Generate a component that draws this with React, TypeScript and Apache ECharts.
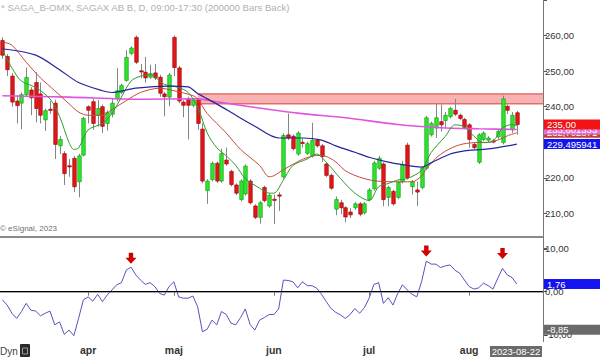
import React, { useEffect, useRef } from "react";
import * as echarts from "echarts";

const TITLE = "* SAGA_B-OMX, SAGAX AB B, D, 09:00-17:30 (200000 Bars Back)";
const COPYRIGHT = "© eSignal, 2023";
const CURSOR_DATE = "2023-08-22";
const FIRST_BAR = "2023-03-08";
const CATEGORY_COUNT = 114;
const HOLIDAYS = ["2023-04-07", "2023-04-10", "2023-05-01", "2023-05-18", "2023-06-06", "2023-06-23"];
const MONTH_NAMES = ["jan", "feb", "mar", "apr", "maj", "jun", "jul", "aug", "sep", "okt", "nov", "dec"];

const opens = [
  258.6, 254.1, 248.6, 241.6, 241.0, 243.4, 244.7, 246.8, 243.6, 236.3,
  239.3, 241.0, 229.0, 226.8, 223.4, 225.5, 218.9, 226.4, 240.0, 241.4,
  237.6, 240.0, 235.3, 237.9, 242.2, 244.0, 247.4, 255.0, 259.5, 250.1,
  249.7, 248.3, 249.5, 248.3, 243.6, 242.7, 259.5, 250.9, 241.3, 242.2,
  240.4, 241.9, 233.7, 216.4, 219.5, 224.1, 219.1, 225.0, 221.8, 218.0,
  213.9, 215.5, 219.1, 212.1, 208.9, 217.3, 212.1, 214.0, 215.2, 220.3,
  232.1, 231.7, 226.7, 230.0, 226.9, 226.2, 230.6, 229.0, 223.9, 220.7,
  211.2, 213.0, 211.6, 210.4, 211.6, 212.7, 210.2, 213.9, 216.9, 222.7,
  223.9, 214.5, 216.2, 214.5, 218.9, 229.2, 217.5, 216.6, 217.3, 222.7,
  232.1, 234.0, 235.8, 236.1, 237.2, 239.0, 237.6, 236.4, 234.9, 229.4,
  224.4, 230.8, 230.6, 230.4, 231.5, 229.9, 240.1, 233.5, 238.3,
];
const highs = [
  259.5, 254.8, 249.5, 243.1, 244.0, 251.0, 245.5, 249.7, 246.8, 239.5,
  241.6, 242.0, 231.7, 227.5, 225.3, 226.2, 226.8, 237.2, 240.4, 242.2,
  241.9, 240.6, 239.0, 242.2, 250.9, 246.5, 255.9, 257.0, 260.0, 252.0,
  254.0, 251.8, 252.0, 249.0, 244.2, 249.5, 260.0, 251.5, 241.8, 242.8,
  242.4, 242.4, 235.3, 219.6, 224.6, 224.6, 228.2, 228.5, 222.3, 218.5,
  219.6, 223.8, 219.6, 212.6, 213.5, 217.8, 215.6, 215.3, 216.0, 232.5,
  238.1, 232.2, 233.1, 231.0, 230.2, 235.5, 231.0, 229.5, 224.4, 221.2,
  214.8, 213.8, 212.0, 211.5, 213.2, 213.2, 213.2, 217.1, 224.8, 226.2,
  224.4, 217.8, 216.7, 219.2, 224.8, 229.9, 219.4, 218.9, 223.2, 237.4,
  235.8, 240.8, 240.6, 238.5, 240.0, 242.2, 238.1, 236.9, 235.4, 229.9,
  232.6, 233.1, 231.7, 231.0, 233.6, 243.1, 240.6, 238.5, 238.8,
];
const lows = [
  253.5, 248.6, 240.0, 235.3, 233.7, 242.8, 237.6, 235.6, 235.3, 233.2,
  238.0, 225.3, 226.7, 218.0, 220.3, 216.0, 214.5, 226.0, 235.3, 233.5,
  234.4, 232.6, 233.3, 237.0, 241.5, 243.5, 247.0, 254.5, 252.0, 248.0,
  246.8, 247.8, 247.5, 242.8, 237.3, 240.1, 248.6, 241.0, 237.0, 230.8,
  239.8, 233.5, 218.5, 212.7, 219.0, 218.6, 218.6, 223.4, 217.6, 215.2,
  213.4, 215.0, 212.5, 208.4, 207.1, 213.1, 211.6, 207.0, 210.7, 219.8,
  230.6, 227.7, 226.2, 228.5, 226.4, 225.7, 228.5, 224.5, 220.2, 216.6,
  209.5, 209.8, 207.5, 208.7, 211.0, 209.2, 209.7, 213.4, 216.4, 222.2,
  212.0, 212.0, 212.2, 214.0, 218.4, 219.5, 215.3, 212.1, 216.8, 222.2,
  231.6, 231.2, 233.0, 234.0, 236.7, 237.4, 236.2, 233.7, 228.5, 228.0,
  223.9, 230.3, 230.1, 229.7, 231.0, 229.4, 238.0, 232.7, 232.1,
];
const closes = [
  254.5, 250.4, 241.3, 240.3, 243.4, 248.2, 242.5, 239.5, 237.6, 238.9,
  239.1, 229.4, 230.8, 221.2, 223.2, 217.5, 226.2, 236.7, 239.0, 235.3,
  239.5, 234.5, 238.4, 241.0, 244.5, 246.0, 253.9, 256.5, 252.5, 249.9,
  248.1, 249.3, 248.1, 243.8, 242.8, 248.9, 251.0, 241.6, 240.4, 240.4,
  241.9, 235.3, 219.1, 219.1, 224.1, 219.1, 226.8, 223.9, 218.1, 215.7,
  219.1, 223.3, 213.0, 208.9, 213.0, 213.6, 215.1, 213.8, 215.0, 231.9,
  231.2, 228.2, 232.6, 229.8, 229.6, 230.6, 229.0, 226.0, 220.7, 217.1,
  213.9, 211.6, 209.0, 209.6, 212.7, 209.8, 212.7, 216.6, 224.2, 225.5,
  213.9, 217.3, 212.7, 218.7, 223.7, 220.0, 218.9, 216.0, 222.7, 236.9,
  235.3, 236.9, 234.9, 237.6, 239.5, 237.9, 236.7, 234.2, 230.8, 228.5,
  232.1, 232.6, 231.2, 230.2, 233.1, 242.2, 239.0, 237.6, 235.0,
];

// moving averages as [bar index, value]
const maFast = [
  [0, 255.9], [2, 250.9], [4, 247.2], [7, 245.4], [10, 242.2], [12, 237.3], [14, 229.9], [15, 228.0],
  [16, 228.4], [18, 233.5], [21, 235.3], [23, 238.1], [25, 242.7], [27, 247.2], [29, 248.6], [31, 249.0],
  [34, 246.3], [37, 245.4], [39, 244.0], [41, 239.9], [43, 232.6], [45, 228.5], [47, 226.2], [49, 223.5],
  [51, 219.8], [54, 217.1], [56, 215.7], [57, 215.7], [59, 219.4], [61, 223.5], [64, 225.3], [66, 226.7],
  [68, 224.4], [71, 219.8], [74, 215.7], [77, 213.6], [79, 217.5], [81, 218.4], [83, 219.4], [85, 219.8],
  [88, 222.1], [90, 227.1], [93, 231.7], [95, 234.9], [97, 234.4], [99, 231.7], [101, 229.9], [103, 230.3],
  [105, 234.0], [107, 235.0], [108, 234.6],
];
const maMid = [
  [0, 258.2], [2, 257.3], [5, 252.5], [8, 248.1], [11, 244.5], [14, 240.8], [16, 238.5], [18, 237.6],
  [21, 237.6], [23, 239.2], [26, 241.7], [29, 244.0], [33, 245.2], [36, 244.5], [40, 243.1], [41, 242.2],
  [43, 238.1], [47, 232.6], [50, 228.0], [54, 223.5], [56, 220.3], [57, 220.6], [59, 222.3], [61, 223.8],
  [63, 225.2], [66, 226.3], [68, 226.0], [70, 224.5], [72, 222.0], [75, 220.2], [78, 219.2], [82, 218.9],
  [86, 218.9], [88, 220.5], [89, 222.5], [91, 225.5], [93, 227.5], [96, 229.3], [99, 229.9], [102, 230.0],
  [104, 230.6], [106, 231.8], [108, 232.702871],
];
const maSlow = [
  [0, 256.3], [7, 254.5], [12, 250.4], [16, 246.8], [21, 244.5], [23, 244.0], [28, 245.2], [35, 245.8],
  [39, 245.6], [41, 243.7], [45, 240.8], [49, 237.6], [53, 234.5], [58, 231.2], [63, 231.2], [67, 230.6],
  [70, 229.0], [74, 227.2], [77, 225.8], [81, 224.4], [84, 223.7], [88, 223.0], [90, 224.2], [94, 226.7],
  [97, 227.6], [101, 228.0], [104, 228.5], [108, 229.495941],
];
const maLong = [
  [0, 243.1], [14, 242.7], [29, 242.1], [41, 242.2], [45, 241.4], [52, 240.0], [62, 238.2], [72, 236.9],
  [83, 235.0], [92, 234.1], [100, 233.8], [108, 233.601333],
];

const oscillator = [
  -1.9, -3.1, -5.0, -6.2, -4.6, -2.7, -4.3, -4.5, -5.6, -5.0,
  -4.5, -7.7, -7.0, -9.9, -8.9, -10.2, -6.2, -1.9, -1.2, -2.2,
  -0.6, -2.3, -0.8, 0.4, 1.6, 2.1, 5.0, 5.7, 3.9, 2.7,
  1.7, 2.1, 1.2, -0.4, -0.8, 1.2, 2.3, -1.2, -1.5, -1.5,
  -1.0, -3.5, -9.3, -8.7, -6.6, -7.7, -4.6, -5.3, -7.3, -7.7,
  -6.0, -4.0, -7.6, -8.9, -6.6, -6.0, -5.3, -5.3, -4.0, 2.7,
  2.6, 2.3, 0.9, 2.3, 1.4, 1.4, 0.8, -0.6, -2.3, -3.9,
  -4.8, -5.4, -6.2, -5.3, -3.9, -5.0, -3.7, -1.5, 1.7, 2.1,
  -2.7, -1.4, -3.1, -0.4, 1.6, 0.4, -0.6, -1.2, 2.3, 7.1,
  6.4, 6.4, 5.6, 6.0, 6.2, 5.0, 4.3, 2.7, 1.2, 0.6,
  0.9, 2.0, 1.4, 0.6, 3.1, 5.4, 3.9, 3.3, 1.76,
];
const OSC_MARKER = -8.85;

const arrowBars = [27, 89, 105];
const arrowLift = [-9, -10, -15];

const BAND_START = 41;
const BAND_LOW = 240.8;
const BAND_HIGH = 243.6;

function buildDates(): string[] {
  const out: string[] = [];
  const d = new Date(FIRST_BAR + "T12:00:00Z");
  while (out.length < CATEGORY_COUNT) {
    const wd = d.getUTCDay();
    const s = d.toISOString().slice(0, 10);
    if (wd !== 0 && wd !== 6 && HOLIDAYS.indexOf(s) < 0) out.push(s);
    d.setUTCDate(d.getUTCDate() + 1);
  }
  return out;
}

const fmt = (v: number, d: number) => v.toFixed(d).replace(".", ",");

export default function App() {
  const ref = useRef<HTMLDivElement>(null);
  useEffect(() => {
    if (!ref.current) return;
    const chart = echarts.init(ref.current, null, { renderer: "svg" });
    const W = 600;
    const GRID_LEFT = -2.1;
    const GRID_RIGHT = 57;
    const FONT = "Arial, 'Liberation Sans', sans-serif";
    const dates = buildDates();
    const isMonthStart = (i: number) => i > 0 && dates[i].slice(0, 7) !== dates[i - 1].slice(0, 7);
    const candleData = opens.map((o, i) => [i, o, closes[i], lows[i], highs[i]]);
    const lastOf = (a: number[][]) => a[a.length - 1][1];

    const tag = (text: string, bg: string, color = "#fff") => ({
      show: true,
      position: "end",
      distance: 1,
      formatter: text,
      backgroundColor: bg,
      color,
      fontSize: 9.5,
      fontFamily: FONT,
      lineHeight: 10,
      padding: [0, 2, 0, 3],
      width: 52,
      align: "left",
      opacity: 1,
    });
    const hidden = { color: "rgba(0,0,0,0)", width: 0 };

    const option: any = {
      animation: false,
      backgroundColor: "#ffffff",
      grid: [
        { left: GRID_LEFT, right: GRID_RIGHT, top: -6.5, height: 255.5 },
        { left: GRID_LEFT, right: GRID_RIGHT, top: 248.6, height: 86.2 },
      ],
      xAxis: [
        { gridIndex: 0, type: "category", data: dates, boundaryGap: true, show: false },
        {
          gridIndex: 1,
          type: "category",
          data: dates,
          boundaryGap: true,
          offset: 7,
          axisLine: { show: true, lineStyle: { color: "#8a8a8a", width: 1.5 } },
          axisTick: {
            show: true,
            alignWithLabel: true,
            interval: (i: number) => isMonthStart(i),
            length: 4,
            lineStyle: { color: "#777" },
          },
          axisLabel: {
            interval: (i: number) => isMonthStart(i),
            formatter: (v: string) => MONTH_NAMES[parseInt(v.slice(5, 7), 10) - 1],
            fontWeight: "bold",
            fontSize: 10.5,
            fontFamily: FONT,
            color: "#333",
            margin: 3,
          },
          splitLine: { show: false },
        },
      ],
      yAxis: [
        {
          gridIndex: 0,
          type: "value",
          position: "right",
          min: 200,
          max: 270,
          interval: 10,
          axisLine: { show: false },
          splitLine: { show: false },
          axisTick: { show: true, length: 4, lineStyle: { color: "#555" } },
          axisLabel: {
            formatter: (v: number) => (v <= 200 || v >= 270 ? "" : fmt(v, 2)),
            fontSize: 9.5,
            fontFamily: FONT,
            color: "#333",
            margin: 2,
          },
        },
        {
          gridIndex: 1,
          type: "value",
          position: "right",
          min: -10,
          max: 10,
          interval: 10,
          axisLine: { show: false },
          splitLine: { show: false },
          axisTick: { show: true, length: 4, lineStyle: { color: "#555" } },
          axisLabel: {
            formatter: (v: number) => fmt(v, 2),
            fontSize: 9.5,
            fontFamily: FONT,
            color: "#333",
            margin: 2,
          },
        },
      ],
      series: [
        {
          type: "custom",
          name: "candles",
          xAxisIndex: 0,
          yAxisIndex: 0,
          z: 2,
          data: candleData,
          encode: { x: 0, y: [1, 2, 3, 4] },
          renderItem: (params: any, api: any) => {
            const i = api.value(0);
            const o = api.value(1);
            const c = api.value(2);
            const l = api.value(3);
            const h = api.value(4);
            const top = api.coord([i, Math.max(o, c)]);
            const bot = api.coord([i, Math.min(o, c)]);
            const hi = api.coord([i, h]);
            const lo = api.coord([i, l]);
            const w = api.size([1, 0])[0] * 0.74;
            const up = c >= o;
            const x = Math.round(top[0]) + 0.5;
            return {
              type: "group",
              children: [
                {
                  type: "line",
                  shape: { x1: x, y1: hi[1], x2: x, y2: lo[1] },
                  style: { stroke: "#858585", lineWidth: 1 },
                },
                {
                  type: "rect",
                  shape: { x: x - w / 2, y: top[1], width: w, height: Math.max(1.2, bot[1] - top[1]) },
                  style: {
                    fill: up ? "#2ee62e" : "#e3171b",
                    stroke: up ? "#16a316" : "#a30a0a",
                    lineWidth: 0.7,
                  },
                },
              ],
            };
          },
        },
        {
          type: "line",
          name: "long",
          xAxisIndex: 0,
          yAxisIndex: 0,
          z: 3,
          data: maLong,
          showSymbol: false,
          smooth: 0.3,
          lineStyle: { color: "#e055e0", width: 1.6 },
        },
        {
          type: "line",
          name: "mid",
          xAxisIndex: 0,
          yAxisIndex: 0,
          z: 3,
          data: maMid,
          showSymbol: false,
          smooth: 0.3,
          lineStyle: { color: "#c9483c", width: 1 },
        },
        {
          type: "line",
          name: "fast",
          xAxisIndex: 0,
          yAxisIndex: 0,
          z: 3,
          data: maFast,
          showSymbol: false,
          smooth: 0.3,
          lineStyle: { color: "#2f9a2f", width: 1 },
        },
        {
          type: "line",
          name: "slow",
          xAxisIndex: 0,
          yAxisIndex: 0,
          z: 4,
          data: maSlow,
          showSymbol: false,
          smooth: 0.3,
          lineStyle: { color: "#25259a", width: 1.2 },
          markLine: {
            silent: true,
            symbol: ["none", "none"],
            animation: false,
            data: [
              { yAxis: lastOf(maFast), lineStyle: hidden, label: tag(fmt(lastOf(maFast), 6), "#22c022") },
              { yAxis: lastOf(maMid), lineStyle: hidden, label: tag(fmt(lastOf(maMid), 6), "#c8402f") },
              { yAxis: lastOf(maLong), lineStyle: hidden, label: tag(fmt(lastOf(maLong), 6), "#e070e0") },
              { yAxis: lastOf(maSlow), lineStyle: hidden, label: tag(fmt(lastOf(maSlow), 6), "#1414ee") },
              {
                yAxis: closes[closes.length - 1],
                lineStyle: hidden,
                label: tag(fmt(closes[closes.length - 1], 2), "#f21414"),
              },
            ],
          },
        },
        {
          type: "line",
          name: "osc",
          xAxisIndex: 1,
          yAxisIndex: 1,
          z: 3,
          clip: false,
          data: oscillator,
          showSymbol: false,
          lineStyle: { color: "#5454c0", width: 1 },
          markLine: {
            silent: true,
            symbol: ["none", "none"],
            animation: false,
            data: [
              { yAxis: 0, lineStyle: { color: "#000", width: 1, type: "solid" }, label: { show: false } },
              {
                yAxis: oscillator[oscillator.length - 1],
                lineStyle: hidden,
                label: tag(fmt(oscillator[oscillator.length - 1], 2), "#1414f0"),
              },
              { yAxis: OSC_MARKER, lineStyle: hidden, label: tag(fmt(OSC_MARKER, 2), "#6a6a6a") },
            ],
          },
          markPoint: {
            silent: true,
            animation: false,
            symbol: "path://M3,0L7,0L7,5L10,5L5,11L0,5L3,5Z",
            symbolSize: [11, 11],
            itemStyle: { color: "#d00000" },
            label: { show: false },
            data: arrowBars.map((b, k) => ({
              coord: [b, oscillator[b]],
              symbolOffset: [0, arrowLift[k]],
            })),
          },
        },
      ],
    };

    chart.setOption(option);

    const axisX = W - GRID_RIGHT;
    const bx = chart.convertToPixel({ xAxisIndex: 0 }, dates[BAND_START]) as number;
    const byTop = chart.convertToPixel({ yAxisIndex: 0 }, BAND_HIGH) as number;
    const byBot = chart.convertToPixel({ yAxisIndex: 0 }, BAND_LOW) as number;

    chart.setOption({
      graphic: [
        {
          type: "rect",
          id: "band",
          z: 0,
          silent: true,
          shape: { x: bx, y: byTop, width: axisX - bx, height: byBot - byTop },
          style: { fill: "#f8b2b2" },
        },
        {
          type: "line",
          id: "bandTop",
          z: 0,
          silent: true,
          shape: { x1: bx, y1: byTop, x2: axisX, y2: byTop },
          style: { stroke: "#d83a3a", lineWidth: 1 },
        },
        {
          type: "line",
          id: "bandBot",
          z: 0,
          silent: true,
          shape: { x1: bx, y1: byBot, x2: axisX, y2: byBot },
          style: { stroke: "#d83a3a", lineWidth: 1 },
        },
        {
          type: "line",
          id: "sep",
          z: 5,
          silent: true,
          shape: { x1: 0, y1: 237, x2: axisX, y2: 237 },
          style: { stroke: "#8a8a8a", lineWidth: 2 },
        },
        {
          type: "line",
          id: "vaxis",
          z: 5,
          silent: true,
          shape: { x1: axisX + 0.5, y1: 0, x2: axisX + 0.5, y2: 342 },
          style: { stroke: "#777", lineWidth: 1 },
        },
        {
          type: "text",
          id: "title",
          z: 10,
          x: 1,
          y: 2,
          style: { text: TITLE, fill: "#b0b0b0", fontSize: 9.6, fontFamily: FONT },
        },
        {
          type: "text",
          id: "copy",
          z: 10,
          x: 0,
          y: 224,
          style: { text: COPYRIGHT, fill: "#707070", fontSize: 8, fontFamily: FONT },
        },
        {
          type: "text",
          id: "dyn",
          z: 10,
          x: 0,
          y: 346,
          style: { text: "Dyn", fill: "#444", fontSize: 10, fontFamily: FONT },
        },
        {
          type: "rect",
          id: "dynIcon",
          z: 10,
          shape: { x: 20, y: 344, width: 10, height: 13, r: 1 },
          style: { fill: "#2a2a2a" },
        },
        {
          type: "rect",
          id: "dynIconIn",
          z: 11,
          shape: { x: 22.5, y: 348, width: 5, height: 6 },
          style: { fill: "none", stroke: "#9a9a9a", lineWidth: 1 },
        },
        {
          type: "rect",
          id: "dateBox",
          z: 10,
          shape: { x: 490, y: 346, width: 52, height: 11 },
          style: { fill: "#6b6b6b" },
        },
        {
          type: "text",
          id: "dateText",
          z: 11,
          x: 516,
          y: 351.5,
          style: {
            text: CURSOR_DATE,
            fill: "#ffffff",
            fontSize: 9.5,
            fontFamily: FONT,
            align: "center",
            verticalAlign: "middle",
          },
        },
      ],
    });

    return () => chart.dispose();
  }, []);

  return <div ref={ref} style={{ position: "fixed", left: 0, top: 0, width: 600, height: 357 }} />;
}
